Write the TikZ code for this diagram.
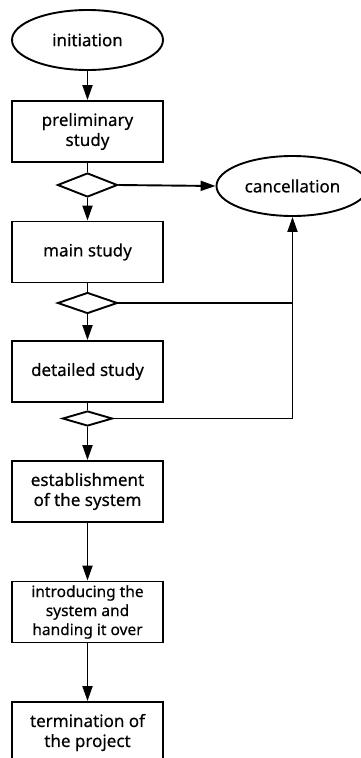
\documentclass[tikz,border=0pt]{standalone}
\usepackage{fontspec}
\setmainfont{Noto Sans}[FakeBold=0.35]
\usetikzlibrary{shapes.geometric,arrows.meta}
\begin{document}
\begin{tikzpicture}[x=1pt,y=-1pt,
  every node/.style={font=\fontsize{17}{20}\selectfont, align=center},
  terminal/.style={ellipse, draw, line width=1.9pt, minimum width=151, minimum height=60, inner sep=0},
  stepbox/.style={rectangle, draw, line width=1.9pt, minimum width=151, minimum height=61, inner sep=0},
  gate/.style={diamond, draw, line width=1.9pt, inner sep=0},
  flow/.style={line width=1.9pt, -{Triangle[length=15pt,width=10pt]}},
  link/.style={line width=1.9pt}]
\useasboundingbox (0,0) rectangle (360,758);
\fill[white] (0,0) rectangle (360,758);

% main column
\node[terminal] (init) at (87.5,40) {initiation};
\node[stepbox] (pre) at (87.5,131.5) {preliminary\\study};
\node[gate, minimum width=60, minimum height=24] (d1) at (87.5,185) {};
\node[stepbox] (main) at (87.5,252) {main study};
\node[gate, minimum width=60, minimum height=21] (d2) at (87.5,303) {};
\node[stepbox] (det) at (87.5,371.5) {detailed study};
\node[gate, minimum width=50, minimum height=15] (d3) at (87.5,418.5) {};
\node[stepbox] (est) at (87.5,491.5) {establishment\\of the system};
\node[stepbox, font=\fontsize{15.5}{19}\selectfont] (intro) at (87.5,612) {introducing the\\system and\\handing it over};
\node[stepbox] (term) at (87.5,732.5) {termination of\\the project};

% exit
\node[terminal, minimum width=152] (cancel) at (292.5,186) {cancellation};

% connectors
\draw[flow] (init) -- (pre);
\draw[link] (pre) -- (d1);
\draw[flow] (d1) -- (main);
\draw[link] (main) -- (d2);
\draw[flow] (d2) -- (det);
\draw[link] (det) -- (d3);
\draw[flow] (d3) -- (est);
\draw[flow] (est) -- (intro);
\draw[flow] (intro) -- (term);

\draw[flow] (d1.east) -- (cancel.west);
\draw[flow] (d3.east) -| (cancel.south);
\draw[link] (d2.east) -- (d2.east -| cancel.south);
\end{tikzpicture}
\end{document}
